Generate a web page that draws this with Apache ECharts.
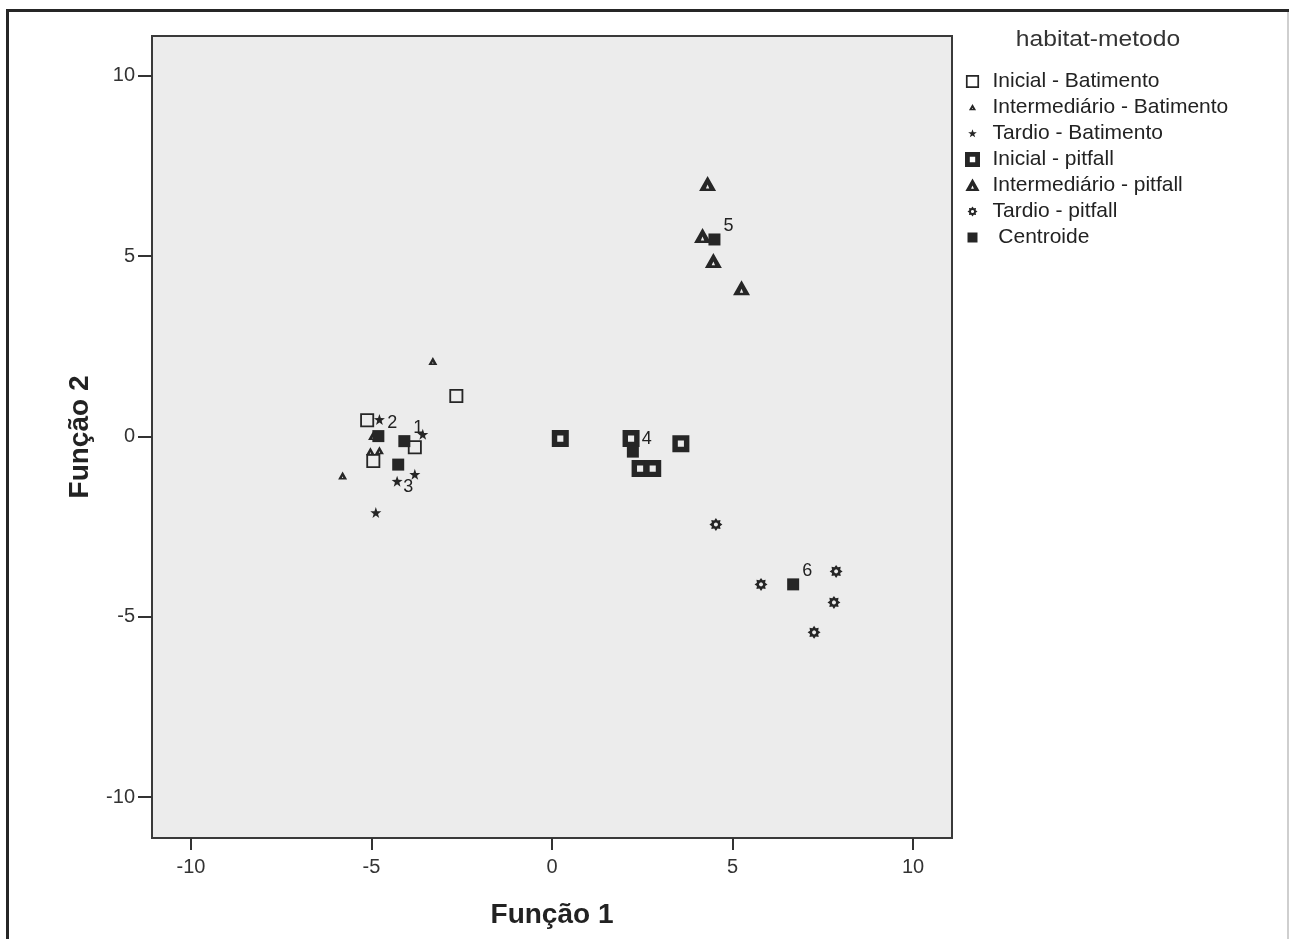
<!DOCTYPE html>
<html>
<head>
<meta charset="utf-8">
<script src="https://cdn.jsdelivr.net/npm/echarts@6/dist/echarts.min.js"></script>
<style>html,body{margin:0;padding:0;background:#fff}#c{width:1289px;height:939px}</style>
</head>
<body>
<div id="c"></div>
<script>
// ---- data ----
const legendTitle = 'habitat-metodo';
const seriesNames = ['Inicial - Batimento', 'Intermediário - Batimento', 'Tardio - Batimento',
  'Inicial - pitfall', 'Intermediário - pitfall', 'Tardio - pitfall', 'Centroide'];
const inicialBatimento = [[-5.12, 0.45], [-2.65, 1.12], [-4.95, -0.68], [-3.80, -0.30]];
const intermedioBatimento = [[-3.30, 2.09], [-5.80, -1.08], [-5.03, -0.41], [-4.78, -0.38], [-4.97, 0.01]];
const tardioBatimento = [[-4.78, 0.47], [-3.58, 0.06], [-4.29, -1.24], [-3.80, -1.05], [-4.88, -2.11]];
const inicialPitfall = [[0.23, -0.06], [2.19, -0.06], [3.57, -0.20], [2.44, -0.89], [2.79, -0.89]];
const intermedioPitfall = [[4.31, 7.01], [4.17, 5.57], [4.47, 4.88], [5.25, 4.12]];
const tardioPitfall = [[4.54, -2.44], [5.79, -4.10], [7.87, -3.74], [7.81, -4.60], [7.26, -5.43]];
const centroides = [[-4.09, -0.13], [-4.81, 0.01], [-4.26, -0.78], [2.24, -0.42], [4.50, 5.46], [6.68, -4.10]];
const centroideLabels = ['1', '2', '3', '4', '5', '6'];
const xTicks = [-10, -5, 0, 5, 10];
const yTicks = [-10, -5, 0, 5, 10];
const xTitle = 'Função 1';
const yTitle = 'Função 2';

// ---- symbol shapes ----
const SQ_THIN = 'M0,0L100,0L100,100L0,100Z M13,13L13,87L87,87L87,13Z';
const SQ_THICK = 'M0,0L100,0L100,100L0,100Z M32,32L32,68L68,68L68,32Z';
const TRI_SMALL = 'M50,0L100,88L0,88Z M50,52L43,72L57,72Z';
const TRI_BIG = 'M50,0L100,88L0,88Z M50,50L40,73L60,73Z';
const STAR = 'M50,2L61.8,35.8L97.6,36.5L69,58.2L79.4,92.5L50,72L20.6,92.5L31,58.2L2.4,36.5L38.2,35.8Z';
const GEAR = 'M50,0L63,18.6L85.36,14.64L81.4,37L100,50L81.4,63L85.36,85.36L63,81.4L50,100L37,81.4L14.64,85.36L18.6,63L0,50L18.6,37L14.64,14.64L37,18.6Z M50,34L38.7,38.7L34,50L38.7,61.3L50,66L61.3,61.3L66,50L61.3,38.7Z';
const SQ_FULL = 'M0,0L100,0L100,100L0,100Z';
const pad = (p, d) => 'path://M' + (-d) + ',' + (-d) + ' M' + (100 + d) + ',' + (100 + d) + ' ' + p;

const ink = '#262626';
const fontFamily = '"Liberation Sans", Arial, sans-serif';

const shapes = [
  { data: inicialBatimento, symbol: 'path://' + SQ_THIN, size: 14, icon: pad(SQ_THIN, 7) },
  { data: intermedioBatimento, symbol: 'path://' + TRI_SMALL, size: [9, 8], icon: pad(TRI_SMALL, 55) },
  { data: tardioBatimento, symbol: 'path://' + STAR, size: 11, icon: pad(STAR, 33) },
  { data: inicialPitfall, symbol: 'path://' + SQ_THICK, size: 17, icon: pad(SQ_THICK, 0) },
  { data: intermedioPitfall, symbol: 'path://' + TRI_BIG, size: [17, 15], icon: pad(TRI_BIG, 3) },
  { data: tardioPitfall, symbol: 'path://' + GEAR, size: 13, icon: pad(GEAR, 25) },
  { data: centroides, symbol: 'path://' + SQ_FULL, size: 12, icon: pad(SQ_FULL, 25) }
];

const labelOffsetOverride = { 2: [-4, 22] };

const series = shapes.map((s, i) => {
  const isCentroid = i === shapes.length - 1;
  const ser = {
    name: seriesNames[i],
    type: 'scatter',
    symbol: s.symbol,
    symbolSize: s.size,
    itemStyle: { color: ink, borderWidth: 0, opacity: 1 },
    emphasis: { disabled: true },
    z: isCentroid ? 5 : 3,
    data: s.data.map((v, j) => {
      if (!isCentroid) return v;
      const item = { value: v };
      if (labelOffsetOverride[j]) item.label = { offset: labelOffsetOverride[j] };
      return item;
    })
  };
  if (isCentroid) {
    ser.label = {
      show: true,
      position: 'right',
      distance: 3,
      offset: [0, -13],
      formatter: p => centroideLabels[p.dataIndex],
      fontSize: 18,
      color: '#222',
      fontFamily
    };
  }
  return ser;
});

const chart = echarts.init(document.getElementById('c'), null, { renderer: 'canvas' });
chart.setOption({
  animation: false,
  backgroundColor: '#ffffff',
  textStyle: { fontFamily },
  grid: {
    left: 152, top: 36, width: 800, height: 802,
    show: true, backgroundColor: '#ececec', borderColor: '#3a3a3a', borderWidth: 2,
    containLabel: false, outerBoundsMode: 'none'
  },
  xAxis: {
    type: 'value', min: -11.08, max: 11.08,
    name: xTitle, nameLocation: 'middle', nameGap: 63,
    nameTextStyle: { fontSize: 28, fontWeight: 'bold', color: '#222', fontFamily },
    axisLine: { show: false, onZero: false },
    axisTick: { show: true, inside: false, length: 12, customValues: xTicks, lineStyle: { color: '#333', width: 2 } },
    axisLabel: { customValues: xTicks, margin: 19, fontSize: 20, color: '#333', fontFamily },
    splitLine: { show: false }
  },
  yAxis: {
    type: 'value', min: -11.13, max: 11.1,
    name: yTitle, nameLocation: 'middle', nameGap: 58, nameRotate: 90,
    nameTextStyle: { fontSize: 28, fontWeight: 'bold', color: '#222', fontFamily },
    axisLine: { show: false, onZero: false },
    axisTick: { show: true, inside: false, length: 14, customValues: yTicks, lineStyle: { color: '#333', width: 2 } },
    axisLabel: { customValues: yTicks, margin: 17, fontSize: 20, color: '#333', fontFamily },
    splitLine: { show: false }
  },
  legend: {
    orient: 'vertical', left: 960, top: 66,
    itemWidth: 30, itemHeight: 15, itemGap: 5,
    symbolKeepAspect: true,
    selectedMode: false,
    textStyle: { fontSize: 21, lineHeight: 20, color: '#222', fontFamily },
    formatter: n => n === 'Centroide' ? ' Centroide' : n,
    data: seriesNames.map((n, i) => ({ name: n, icon: shapes[i].icon }))
  },
  graphic: [
    { type: 'text', x: 1098, y: 40, scaleX: 1.12, z: 10,
      style: { text: legendTitle, fontSize: 22, fill: '#333', align: 'center', verticalAlign: 'middle', fontFamily } },
    { type: 'line', z: 10, shape: { x1: 7.5, y1: 9, x2: 7.5, y2: 939 }, style: { stroke: '#262626', lineWidth: 3 } },
    { type: 'line', z: 10, shape: { x1: 6, y1: 10.5, x2: 1289, y2: 10.5 }, style: { stroke: '#262626', lineWidth: 3 } },
    { type: 'line', z: 10, shape: { x1: 1288, y1: 12, x2: 1288, y2: 939 }, style: { stroke: '#cfcfcf', lineWidth: 2 } }
  ],
  series
});
</script>
</body>
</html>
